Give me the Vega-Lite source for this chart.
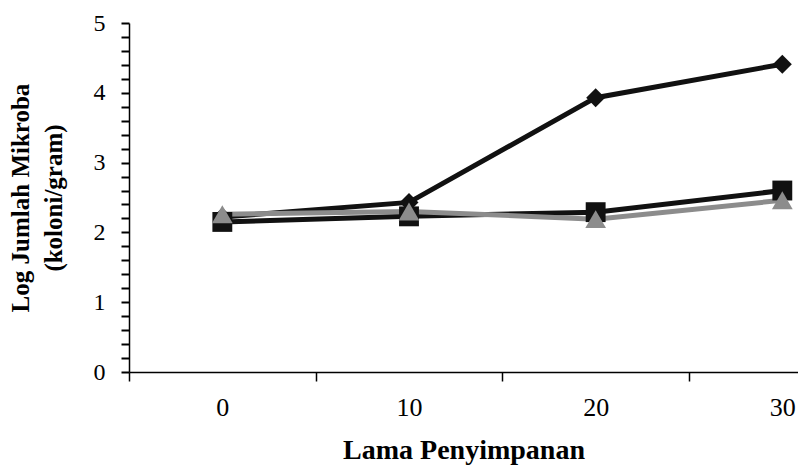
{
  "$schema": "https://vega.github.io/schema/vega-lite/v6.json",
  "width": 669,
  "height": 349,
  "autosize": "none",
  "padding": {"left": 129, "top": 23, "right": 0, "bottom": 100},
  "background": "white",
  "config": {
    "view": {"stroke": null},
    "font": "Liberation Serif",
    "axis": {
      "domainColor": "#000000",
      "domainWidth": 1.5,
      "tickColor": "#000000",
      "tickWidth": 1.5,
      "labelColor": "#000000",
      "labelFont": "Liberation Serif",
      "labelFontSize": 24,
      "titleColor": "#000000",
      "titleFont": "Liberation Serif",
      "titleFontSize": 24,
      "titleFontWeight": "bold",
      "grid": false
    }
  },
  "data": {
    "values": [
      {"series": "A", "day": 0, "value": 2.22},
      {"series": "A", "day": 10, "value": 2.43},
      {"series": "A", "day": 20, "value": 3.93},
      {"series": "A", "day": 30, "value": 4.41},
      {"series": "B", "day": 0, "value": 2.15},
      {"series": "B", "day": 10, "value": 2.23},
      {"series": "B", "day": 20, "value": 2.29},
      {"series": "B", "day": 30, "value": 2.6},
      {"series": "C", "day": 0, "value": 2.26},
      {"series": "C", "day": 10, "value": 2.3},
      {"series": "C", "day": 20, "value": 2.19},
      {"series": "C", "day": 30, "value": 2.46}
    ]
  },
  "encoding": {
    "x": {
      "field": "day",
      "type": "quantitative",
      "scale": {"domain": [-5, 30.84], "nice": false, "zero": false},
      "axis": {
        "title": "Lama Penyimpanan",
        "titleFontSize": 28,
        "labelFontSize": 26,
        "values": [-5, 0, 5, 10, 15, 20, 25, 30],
        "labelExpr": "(datum.value % 10 == 0 && datum.value >= 0) ? format(datum.value, 'd') : ''",
        "tickOpacity": {"condition": {"test": "datum.value % 10 == 0", "value": 0}, "value": 1},
        "tickSize": 9,
        "labelPadding": 13,
        "labelOverlap": false,
        "labelFlush": false,
        "titlePadding": 16
      }
    },
    "y": {
      "field": "value",
      "type": "quantitative",
      "scale": {"domain": [0, 5], "nice": false},
      "axis": {
        "title": ["Log Jumlah Mikroba", "(koloni/gram)"],
        "titleFontSize": 25,
        "titleLineHeight": 33,
        "values": [0, 0.2, 0.4, 0.6, 0.8, 1, 1.2, 1.4, 1.6, 1.8, 2, 2.2, 2.4, 2.6, 2.8, 3, 3.2, 3.4, 3.6, 3.8, 4, 4.2, 4.4, 4.6, 4.8, 5],
        "labelExpr": "abs(datum.value - round(datum.value)) < 0.001 ? format(datum.value, 'd') : ''",
        "tickWidth": 2,
        "tickSize": 8,
        "labelPadding": 16,
        "labelOverlap": false,
        "labelFlush": false,
        "titlePadding": 27
      }
    },
    "color": {
      "field": "series",
      "type": "nominal",
      "scale": {"domain": ["A", "B", "C"], "range": ["#111111", "#111111", "#8c8c8c"]},
      "legend": null
    }
  },
  "layer": [
    {
      "mark": {"type": "line", "strokeWidth": 5}
    },
    {
      "mark": {"type": "point", "filled": true, "opacity": 1},
      "encoding": {
        "shape": {
          "field": "series",
          "type": "nominal",
          "scale": {"domain": ["A", "B", "C"], "range": ["diamond", "square", "triangle-up"]},
          "legend": null
        },
        "size": {
          "field": "series",
          "type": "nominal",
          "scale": {"domain": ["A", "B", "C"], "range": [360, 430, 300]},
          "legend": null
        }
      }
    }
  ]
}
